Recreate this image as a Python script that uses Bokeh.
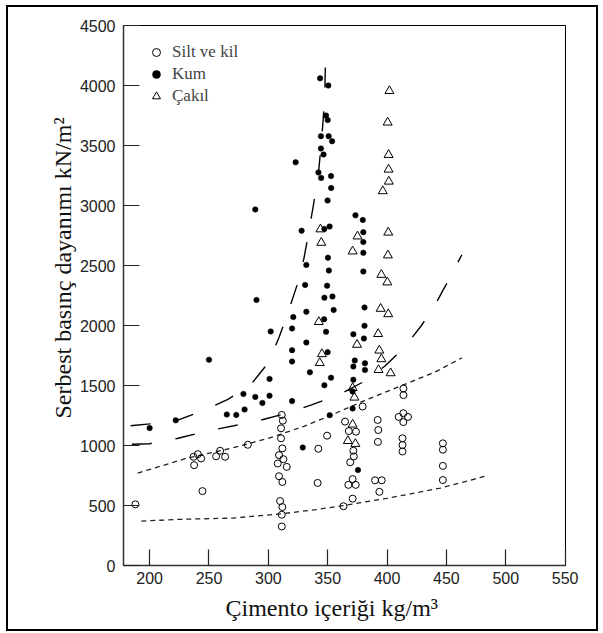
from bokeh.plotting import figure
from bokeh.models import Range1d, FixedTicker, Legend, LegendItem, Title, InlineStyleSheet
from bokeh.embed import file_html
from bokeh.resources import INLINE

# ---------------- data ----------------
x_ticks = [200, 250, 300, 350, 400, 450, 500, 550]
y_ticks = [0, 500, 1000, 1500, 2000, 2500, 3000, 3500, 4000, 4500]

silt_x = [188, 237, 240.6, 243.4, 237.5, 244.5, 256, 259.4, 263.6, 282.7,
          311.3, 312.2, 310.7, 310.7, 311.8, 309, 312.7, 307.9, 315.5, 309,
          311.8, 309.9, 311.8, 311.3, 311.3, 341.5, 342.1, 349.5, 364.6, 367.8,
          373.8, 371.6, 372, 369, 371, 367.4, 373.6, 371, 363.3, 379.4,
          392.1, 392.6, 392.3, 389.9, 395.5, 393.5, 413.8, 413.8, 409.8, 413.7,
          417.6, 413.7, 413, 413, 413, 447, 447, 447, 447]
silt_y = [510, 906, 928, 892, 836, 620, 910, 956, 906, 1006,
          1255, 1207, 1143, 1060, 976, 920, 886, 850, 822, 744,
          696, 537, 487, 423, 325, 688, 973, 1082, 1199, 1120,
          1115, 956, 909, 860, 720, 672, 672, 557, 494, 1325,
          1213, 1129, 1030, 710, 710, 614, 1475, 1420, 1238, 1269,
          1238, 1195, 1060, 1004, 950, 1018, 965, 830, 712]

kum_x = [200, 222, 250, 265, 273, 279, 280, 289, 295, 301,
         301, 302, 289, 290, 320, 320, 320, 321, 320, 323,
         328, 332, 331, 332, 332, 335, 329, 343.6, 350.5, 348.6,
         350, 344.3, 350.8, 353.7, 344.3, 346.5, 342.2, 344.5, 352.8, 352.9,
         349.9, 347.2, 351.6, 350.2, 351, 349.5, 347.2, 354, 355, 347,
         348.6, 349.9, 347.2, 352.8, 351.7, 373.4, 379.6, 380, 380, 380,
         380, 381, 381, 380.5, 371.6, 372.8, 371.6, 381.4, 381.4, 371.6,
         371, 371, 375.5]
kum_y = [1145, 1210, 1715, 1258, 1255, 1430, 1300, 1405, 1355, 1415,
         1555, 1950, 2967, 2213, 1794, 1700, 1975, 2070, 1370, 3360,
         2790, 2505, 2338, 2115, 1858, 1610, 983, 4060, 4000, 3750,
         3712, 3578, 3578, 3535, 3475, 3425, 3276, 3230, 3245, 3146,
         3042, 2805, 2825, 2565, 2458, 2332, 2232, 2242, 2130, 2052,
         1947, 1778, 1502, 1565, 1253, 2918, 2880, 2778, 2696, 2606,
         2450, 2150, 1997, 1892, 1927, 1708, 1658, 1685, 1630, 1548,
         1450, 1309, 795]

cakil_x = [402, 400.5, 401.3, 401.3, 401.5, 396.4, 401, 400.7, 395.2, 400.2,
           394.6, 401, 392.5, 393.5, 395.2, 392.8, 403, 343.9, 344.6, 342.5,
           345.1, 343.3, 375.1, 371, 374.7, 371, 372.5, 371, 367, 373.3]
cakil_y = [3955, 3692, 3422, 3300, 3200, 3120, 2775, 2585, 2423, 2360,
           2140, 2095, 1930, 1792, 1720, 1630, 1603, 2802, 2690, 2030,
           1762, 1688, 2743, 2618, 1840, 1480, 1400, 1175, 1038, 1014]

# envelope curves
kum_upper_x = [184, 200, 222, 245, 266, 285, 300, 309, 317, 324,
               330, 334, 338, 342, 344, 346, 347.5, 348]
kum_upper_y = [1165, 1180, 1205, 1290, 1385, 1505, 1690, 1900, 2120, 2330,
               2560, 2775, 3005, 3250, 3455, 3690, 3915, 4150]
kum_lower_x = [185, 200, 224, 248, 271, 293, 316, 337, 360, 379,
               398, 414, 429, 442, 453, 463]
kum_lower_y = [1010, 1015, 1060, 1120, 1165, 1210, 1270, 1340, 1425, 1525,
               1660, 1810, 2000, 2200, 2400, 2590]
silt_upper_x = [190, 230, 270, 300, 330, 350, 380, 410, 440, 463]
silt_upper_y = [770, 890, 980, 1060, 1160, 1240, 1370, 1490, 1610, 1730]
silt_lower_x = [193, 226, 270, 310, 340, 361, 400, 445, 485]
silt_lower_y = [370, 385, 395, 430, 465, 496, 560, 645, 750]

x_label = "Çimento içeriği kg/m³"
y_label = "Serbest basınç dayanımı kN/m²"
legend_labels = ["Silt ve kil", "Kum", "Çakıl"]

# ---------------- figure ----------------
p = figure(width=603, height=633, output_backend="svg", toolbar_location=None,
           x_range=Range1d(178, 550.3), y_range=Range1d(0, 4500),
           min_border_left=123, min_border_right=38,
           min_border_top=25, min_border_bottom=68)
p.background_fill_color = "white"
p.border_fill_color = "white"
p.outline_line_color = "black"
p.outline_line_width = 1
p.xgrid.visible = False
p.ygrid.visible = False
p.stylesheets = [InlineStyleSheet(css=(
    ":host::after { content: ''; position: absolute; left: 6px; top: 5px; "
    "width: 592px; height: 626px; border: 2px solid black; box-sizing: border-box; "
    "pointer-events: none; z-index: 1000; }"))]

for ax, ticks in ((p.xaxis[0], x_ticks), (p.yaxis[0], y_ticks)):
    ax.ticker = FixedTicker(ticks=ticks)
    ax.major_tick_in = 16
    ax.major_tick_out = 0
    ax.minor_tick_in = 0
    ax.minor_tick_out = 0
    ax.axis_line_color = "#333333"
    ax.axis_line_width = 1.5
    ax.major_tick_line_color = "#222222"
    ax.major_tick_line_width = 1.2
    ax.major_label_text_font = "Liberation Sans"
    ax.major_label_text_font_size = "16px"
    ax.major_label_text_color = "#222222"
p.xaxis.major_label_standoff = 6
p.yaxis.major_label_standoff = 8

# curves
p.line(kum_upper_x, kum_upper_y, line_color="black", line_width=1.4, line_dash="20 24")
p.line(kum_lower_x, kum_lower_y, line_color="black", line_width=1.4, line_dash="20 24")
p.line(silt_upper_x, silt_upper_y, line_color="#222222", line_width=1.3, line_dash="5 4")
p.line(silt_lower_x, silt_lower_y, line_color="#222222", line_width=1.3, line_dash="5 4")

# points
r_silt = p.scatter(x=silt_x, y=silt_y, marker="circle", size=7,
                   fill_color=None, line_color="black", line_width=1)
r_kum = p.scatter(x=kum_x, y=kum_y, marker="circle", size=5.5,
                  fill_color="black", line_color="black", line_width=0.5)
r_cakil = p.scatter(x=cakil_x, y=cakil_y, marker="triangle", size=9,
                    fill_color=None, line_color="black", line_width=1)

legend = Legend(items=[LegendItem(label=legend_labels[0], renderers=[r_silt]),
                       LegendItem(label=legend_labels[1], renderers=[r_kum]),
                       LegendItem(label=legend_labels[2], renderers=[r_cakil])],
                location="top_left", background_fill_alpha=0, border_line_alpha=0,
                label_text_font="Liberation Serif", label_text_font_size="17px",
                glyph_width=32, glyph_height=20, label_height=20,
                label_standoff=-5, spacing=2, margin=10, padding=7)
p.add_layout(legend)

# axis titles
p.add_layout(Title(text=x_label, text_font="Liberation Serif", text_font_size="24px",
                   text_font_style="normal", text_color="#111111",
                   align="left", offset=102, standoff=12), "below")
p.add_layout(Title(text=y_label, text_font="Liberation Serif", text_font_size="24px",
                   text_font_style="normal", text_color="#111111",
                   align="left", offset=147, standoff=2), "left")

open("out.html", "w").write(file_html(p, INLINE))
